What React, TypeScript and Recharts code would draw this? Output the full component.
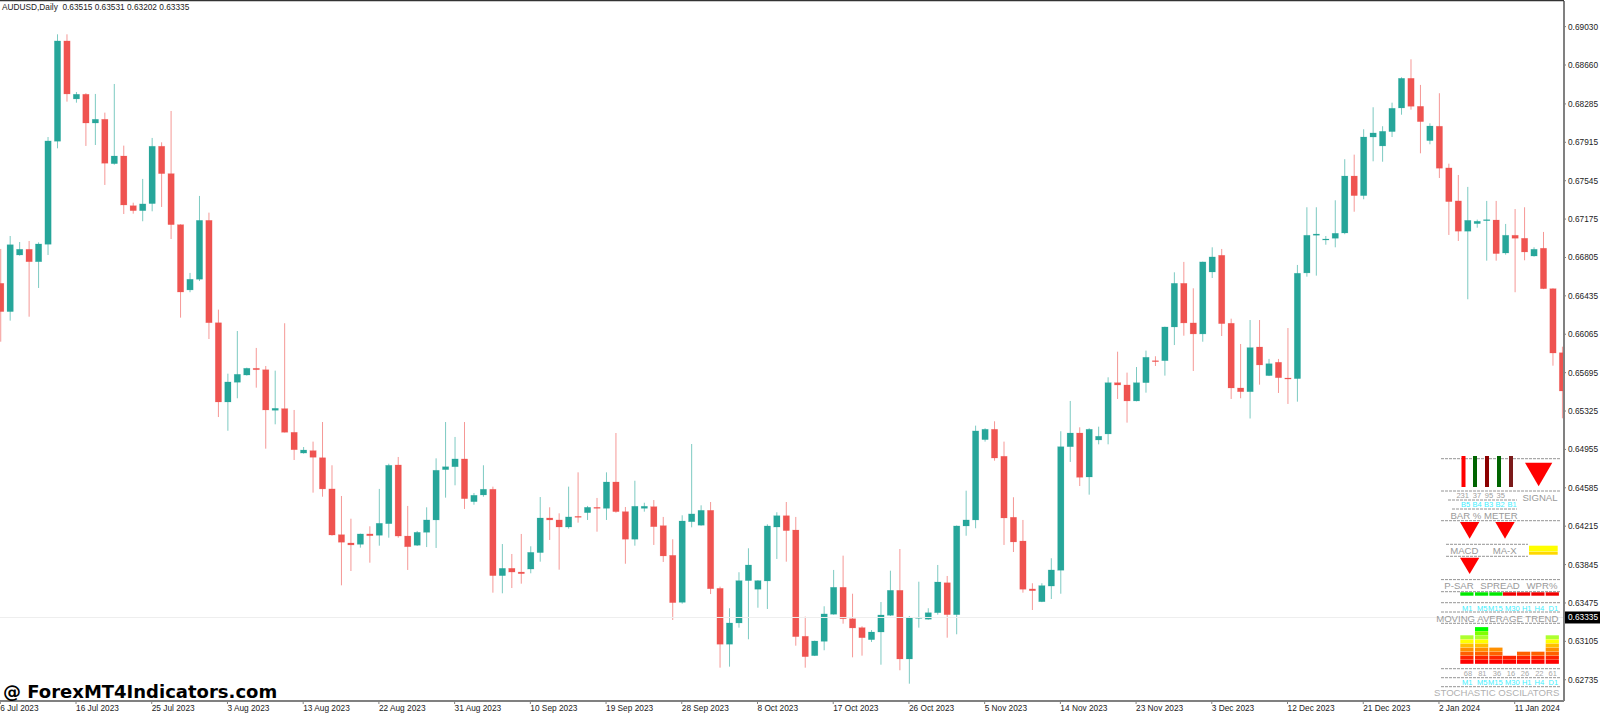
import React from 'react';
import { ComposedChart, Bar, XAxis, YAxis, ReferenceLine } from 'recharts';

// all prices in points (0.00001)
const opens = [
  66556, 66283, 66829, 66884, 66764, 66932, 67925, 68892, 68333, 68378,
  68101, 68137, 67709, 67783, 67304, 67256, 67324, 67877, 67613, 67121,
  66492, 66595, 67163, 66176, 65412, 65602, 65672, 65737, 65723, 65332,
  65348, 65120, 64920, 64943, 64875, 64574, 64133, 64053, 64040, 64140,
  64127, 64239, 64805, 64120, 64031, 64156, 64275, 64760, 64788, 64863,
  64451, 64516, 64571, 63738, 63809, 63773, 63802, 63960, 64294, 64275,
  64207, 64310, 64345, 64397, 64387, 64641, 64355, 64089, 64387, 64403,
  64220, 63934, 63481, 64258, 64224, 64368, 63616, 63077, 63282, 63690,
  63607, 63687, 64207, 64316, 64178, 63154, 62967, 63105, 63366, 63626,
  63323, 63237, 63121, 63195, 63356, 63597, 62935, 63327, 63318, 63381,
  63670, 63362, 64217, 64275, 65049, 65149, 64889, 64301, 64072, 63610,
  63487, 63638, 63790, 64981, 65113, 64689, 65046, 65104, 65598, 65576,
  65422, 65598, 65810, 65810, 66135, 66556, 66174, 66068, 66665, 66826,
  66171, 65547, 65511, 65942, 65666, 65795, 65643, 65637, 66656, 67019,
  66977, 66990, 67041, 67590, 67401, 67966, 67880, 68018, 68246, 68532,
  68262, 67931, 68070, 67668, 67350, 67058, 67131, 67160, 67166, 66848,
  67019, 66990, 66819, 66894, 66504, 65887,
];
const highs = [
  66887, 67012, 66954, 66964, 66951, 67966, 68956, 68956, 68400, 68388,
  68381, 68201, 68477, 67883, 67333, 67562, 67957, 67915, 68217, 67125,
  66656, 67398, 67237, 66302, 65685, 66096, 65743, 65933, 65759, 65714,
  66171, 65335, 64978, 65030, 65219, 64802, 64506, 64287, 64143, 64214,
  64574, 64817, 64882, 64410, 64169, 64397, 64869, 65219, 65075, 65219,
  64535, 64802, 64596, 64043, 63947, 64140, 64021, 64496, 64397, 64339,
  64596, 64734, 64410, 64487, 64734, 65113, 64400, 64653, 64441, 64467,
  64304, 64089, 64320, 65007, 64416, 64448, 63632, 63424, 63771, 64002,
  63695, 64233, 64349, 64448, 64304, 63343, 63112, 63443, 63793, 63931,
  63564, 63250, 63214, 63484, 63786, 63995, 63349, 63680, 63424, 63841,
  63735, 64222, 64557, 65184, 65159, 65226, 65030, 64494, 64275, 63665,
  63665, 63906, 65130, 65422, 65168, 65159, 65174, 65650, 65897, 65695,
  65749, 65907, 65853, 66138, 66662, 66762, 66508, 66765, 66903, 66887,
  66215, 65971, 66202, 66202, 65827, 65827, 66125, 66733, 67289, 67289,
  67012, 67356, 67752, 67796, 68041, 68253, 68070, 68297, 68542, 68715,
  68468, 68098, 68388, 67709, 67600, 67485, 67170, 67350, 67350, 67128,
  67272, 67289, 66903, 67051, 66508, 65945,
];
const lows = [
  65993, 66196, 66822, 66234, 66511, 66829, 67857, 68307, 68297, 67880,
  67889, 67504, 67699, 67224, 67227, 67154, 67250, 67292, 66983, 66225,
  66470, 66578, 66019, 65267, 65135, 65448, 65666, 65550, 64962, 65197,
  65118, 64853, 64914, 64538, 64499, 64123, 63645, 63783, 64008, 63863,
  64027, 64104, 64104, 63793, 64024, 64014, 64005, 64490, 64609, 64381,
  64422, 64499, 63574, 63568, 63619, 63661, 63761, 63873, 64082, 63796,
  64191, 64249, 64275, 64162, 64275, 64345, 63853, 64027, 64355, 64034,
  63870, 63311, 63468, 64204, 64220, 63561, 62851, 62861, 63237, 63125,
  63429, 63417, 63899, 63873, 63063, 62851, 62963, 63019, 63362, 63275,
  62951, 62967, 63099, 62880, 63349, 62826, 62697, 63237, 63314, 63362,
  63140, 63173, 64123, 64195, 65030, 64846, 64034, 63966, 63574, 63407,
  63483, 63513, 63564, 64834, 64602, 64519, 65004, 65004, 65441, 65213,
  65418, 65502, 65759, 65666, 65961, 66051, 65711, 65993, 66607, 66048,
  65441, 65448, 65253, 65579, 65662, 65499, 65393, 65415, 66620, 66630,
  66928, 66903, 67029, 67246, 67366, 67732, 67728, 67966, 68181, 68230,
  67809, 67896, 67571, 67022, 66964, 66402, 67092, 66774, 66774, 66832,
  66470, 66778, 66813, 66500, 65762, 65255,
];
const closes = [
  66283, 66928, 66884, 66764, 66935, 67928, 68892, 68381, 68378, 68101,
  68137, 67713, 67783, 67311, 67256, 67321, 67877, 67613, 67121, 66472,
  66595, 67163, 66176, 65412, 65605, 65679, 65737, 65723, 65335, 65351,
  65120, 64952, 64949, 64879, 64574, 64130, 64060, 64034, 64140, 64123,
  64243, 64802, 64120, 64017, 64156, 64275, 64754, 64788, 64863, 64480,
  64513, 64571, 63738, 63809, 63773, 63757, 63963, 64294, 64275, 64207,
  64304, 64301, 64397, 64387, 64641, 64355, 64089, 64407, 64407, 64210,
  63928, 63478, 64265, 64333, 64368, 63612, 63077, 63282, 63690, 63841,
  63690, 64217, 64316, 64172, 63150, 62957, 63108, 63369, 63626, 63323,
  63234, 63140, 63195, 63359, 63597, 62935, 63330, 63337, 63381, 63677,
  63362, 64217, 64275, 65133, 65149, 64872, 64294, 64063, 63607, 63593,
  63642, 63793, 64981, 65113, 64686, 65149, 65082, 65598, 65576, 65422,
  65598, 65843, 65801, 66135, 66556, 66174, 66068, 66762, 66810, 66167,
  65547, 65511, 65936, 65769, 65781, 65646, 65637, 66653, 67019, 67031,
  66983, 67038, 67590, 67401, 67966, 68005, 68021, 68243, 68532, 68262,
  68114, 68072, 67665, 67343, 67058, 67163, 67154, 67169, 66842, 67019,
  66990, 66858, 66884, 66504, 65884, 65518,
];

const priceTicks = [
  0.6903, 0.6866, 0.68285, 0.67915, 0.67545, 0.67175, 0.66805, 0.66435, 0.66065, 0.65695,
  0.65325, 0.64955, 0.64585, 0.64215, 0.63845, 0.63475, 0.63335, 0.63105, 0.62735,
];
const dateLabels = [
  '6 Jul 2023', '16 Jul 2023', '25 Jul 2023', '3 Aug 2023', '13 Aug 2023', '22 Aug 2023', '31 Aug 2023',
  '10 Sep 2023', '19 Sep 2023', '28 Sep 2023', '8 Oct 2023', '17 Oct 2023', '26 Oct 2023', '5 Nov 2023',
  '14 Nov 2023', '23 Nov 2023', '3 Dec 2023', '12 Dec 2023', '21 Dec 2023', '2 Jan 2024', '11 Jan 2024',
];
const BARS_PER_LABEL = 8;
const LAST_PRICE = 0.63335;

// indicator panel contents
const meterColors = ['#ff0000', '#006400', '#8b0000', '#006400', '#7b1a1a'];
const meterValues = ['231', '37', '95', '35'];
const meterNames = ['B5', 'B4', 'B3', 'B2', 'B1'];
const timeframes = ['M1', 'M5', 'M15', 'M30', 'H1', 'H4', 'D1'];
const trendColors = ['#00e800', '#00e800', '#00e800', '#f00000', '#f00000', '#f00000', '#f00000'];
const stochLevels = [7, 9, 4, 2, 3, 3, 7];
const stochValues = ['68', '81', '36', '16', '26', '22', '61'];
const stochColors = ['#ff0000', '#ff2400', '#ff6000', '#ff9000', '#ffc000', '#ffff00', '#adff2f', '#7fff00', '#00ff00'];

const tableData = opens.map((open, i) => ({
  idx: i,
  open: open / 1e5,
  close: closes[i] / 1e5,
  range: [lows[i] / 1e5, highs[i] / 1e5],
}));

const UP = '#26a69a';
const DOWN = '#ef5350';
const FONT = '"Liberation Sans", Arial, sans-serif';

function Candle(props: any) {
  const { x, y, width, height, payload } = props;
  const [low, high] = payload.range;
  const pxPerPrice = height / (high - low);
  const topPrice = Math.max(payload.open, payload.close);
  const botPrice = Math.min(payload.open, payload.close);
  const bodyY = y + (high - topPrice) * pxPerPrice;
  const bodyH = Math.max((topPrice - botPrice) * pxPerPrice, 1);
  const color = payload.close >= payload.open ? UP : DOWN;
  const cx = x + width / 2;
  return (
    <g>
      <line x1={cx} x2={cx} y1={y} y2={y + height} stroke={color} strokeOpacity={0.6} strokeWidth={1} />
      <rect x={x} y={bodyY} width={width} height={bodyH} fill={color} stroke={color} strokeOpacity={0.3} strokeWidth={0.6} />
    </g>
  );
}

function PriceTick({ x, y, payload }: any) {
  const isLast = payload.value === LAST_PRICE;
  return (
    <g>
      <line x1={x} x2={x + 2} y1={y} y2={y} stroke="#808080" />
      {isLast && <rect x={x + 1} y={y - 6} width={36} height={12} fill="#000" />}
      <text x={x + 4} y={y + 3} fontSize={8.3} fontFamily={FONT} fill={isLast ? '#fff' : '#222'}>
        {payload.value.toFixed(5)}
      </text>
    </g>
  );
}

function DateTick({ x, y, payload }: any) {
  return (
    <g>
      <line x1={x} x2={x} y1={y} y2={y + 3} stroke="#808080" />
      <text x={x} y={y + 10} fontSize={8.3} fontFamily={FONT} fill="#222">
        {dateLabels[payload.value / BARS_PER_LABEL]}
      </text>
    </g>
  );
}

function Dash({ y, x1 = 1441, x2 = 1560 }: { y: number; x1?: number; x2?: number }) {
  return <line x1={x1} x2={x2} y1={y} y2={y} stroke="#7a7a7a" strokeWidth={0.8} strokeDasharray="3 1" />;
}

function Label({ x, y, children, size = 9.6, fill = '#9a9a9a' }: any) {
  return (
    <text x={x} y={y} textAnchor="middle" fontSize={size} fontFamily={FONT} fill={fill}>
      {children}
    </text>
  );
}

function Tri({ x, y, w, h }: { x: number; y: number; w: number; h: number }) {
  return <path d={`M${x} ${y}h${w}l${-w / 2} ${h}z`} fill="#ff0000" />;
}

function Panel() {
  const meterX = [1461.5, 1473, 1485, 1497, 1509];
  const meterTextX = [1462.7, 1477, 1489, 1500.7];
  const nameX = [1465.7, 1477, 1488.7, 1500, 1512];
  const colX = [1460.3, 1475, 1489.3, 1503, 1517, 1531.3, 1545.7];
  const tfX = [1467.3, 1482.3, 1495.3, 1512.3, 1526.7, 1539.3, 1553.3];
  const valX = [1468, 1482.3, 1497, 1511, 1525, 1539.3, 1552.7];
  return (
    <>
      <Dash y={458.7} />
      {meterColors.map((c, i) => (
        <rect key={i} x={meterX[i]} y={456} width={4} height={31} fill={c} />
      ))}
      <Tri x={1525} y={462.7} w={27.3} h={23.5} />
      <Dash y={491} />
      {meterValues.map((v, i) => (
        <Label key={i} x={meterTextX[i]} y={498} size={7.5} fill="#a0a0a0">{v}</Label>
      ))}
      <Label x={1540} y={500.5}>SIGNAL</Label>
      <Dash y={500} x1={1448} x2={1517} />
      {meterNames.map((v, i) => (
        <Label key={i} x={nameX[i]} y={507} size={7.5} fill="#3fefff">{v}</Label>
      ))}
      <Dash y={509} x1={1452} x2={1517} />
      <Label x={1484} y={518.8}>BAR % METER</Label>
      <Dash y={520.7} />
      <Tri x={1460} y={522} w={19.3} h={16.7} />
      <Tri x={1495.3} y={522} w={19.4} h={16.7} />
      <Dash y={544.3} x1={1446} x2={1528} />
      <Label x={1464.3} y={554}>MACD</Label>
      <Label x={1504.7} y={554}>MA-X</Label>
      <Dash y={556.3} x1={1446} x2={1528} />
      <rect x={1529} y={545.7} width={28.7} height={5.8} fill="#ffff00" />
      <rect x={1529} y={551.8} width={28.7} height={2.9} fill="#ffd700" />
      <Tri x={1460} y={557.7} w={19.3} h={16.3} />
      <Dash y={579.6} />
      <Label x={1459} y={589}>P-SAR</Label>
      <Label x={1500} y={589}>SPREAD</Label>
      <Label x={1542} y={589}>WPR%</Label>
      <Dash y={591.7} />
      {trendColors.map((c, i) => (
        <rect key={i} x={colX[i]} y={592.3} width={13.2} height={3.4} fill={c} />
      ))}
      <Dash y={602.7} />
      {timeframes.map((t, i) => (
        <Label key={i} x={tfX[i]} y={610.5} size={7.5} fill="#3fefff">{t}</Label>
      ))}
      <Dash y={612} />
      <Label x={1497.3} y={621.8}>MOVING AVERAGE TREND</Label>
      <Dash y={623.3} />
      {stochLevels.map((n, i) =>
        stochColors.slice(0, n).map((c, k) => (
          <rect key={`${i}-${k}`} x={colX[i]} y={664 - (k + 1) * 4.1} width={13.2} height={3.9} fill={c} />
        )),
      )}
      <Dash y={668.7} />
      {stochValues.map((v, i) => (
        <Label key={i} x={valX[i]} y={675.5} size={7.5} fill="#a8a8a8">{v}</Label>
      ))}
      <Dash y={677.7} />
      {timeframes.map((t, i) => (
        <Label key={i} x={tfX[i]} y={684.8} size={7.5} fill="#3fefff">{t}</Label>
      ))}
      <Dash y={686.7} />
      <Label x={1496.7} y={695.5} fill="#b0b0b0">STOCHASTIC OSCILATORS</Label>
    </>
  );
}

export default function App() {
  const dateTicks = dateLabels.map((_, i) => i * BARS_PER_LABEL);
  return (
    <div style={{ position: 'absolute', left: 0, top: 0, width: 1600, height: 714, background: '#fff', overflow: 'hidden' }}>
      <ComposedChart width={1600} height={714} data={tableData} margin={{ top: 1, right: 0, bottom: 0, left: 0 }}>
        <XAxis
          dataKey="idx"
          type="number"
          domain={[-0.032, 165.21]}
          ticks={dateTicks}
          allowDataOverflow
          height={13}
          interval={0}
          tickLine={false}
          tickSize={0}
          tickMargin={0}
          axisLine={{ stroke: '#808080', strokeWidth: 2 }}
          tick={<DateTick />}
        />
        <YAxis
          orientation="right"
          type="number"
          domain={[0.6253, 0.69277]}
          ticks={priceTicks}
          allowDataOverflow
          width={36}
          interval={0}
          tickLine={false}
          tickSize={0}
          tickMargin={0}
          axisLine={{ stroke: '#808080', strokeWidth: 2 }}
          tick={<PriceTick />}
        />
        <ReferenceLine y={LAST_PRICE} stroke="#eeeeee" />
        <Bar dataKey="range" barSize={6.3} isAnimationActive={false} shape={<Candle />} />
      </ComposedChart>
      <svg width={1600} height={714} style={{ position: 'absolute', left: 0, top: 0 }}>
        <line x1={0} x2={1564} y1={0.5} y2={0.5} stroke="#333" strokeWidth={1.5} />
        <text x={2} y={10} fontSize={8.3} fontFamily={FONT} fill="#222" xmlSpace="preserve">
          AUDUSD,Daily  0.63515 0.63531 0.63202 0.63335
        </text>
        <text x={3} y={697.5} fontSize={18} fontWeight="bold" fontFamily='"DejaVu Sans", sans-serif' fill="#000">
          @ ForexMT4Indicators.com
        </text>
        <Panel />
      </svg>
    </div>
  );
}
